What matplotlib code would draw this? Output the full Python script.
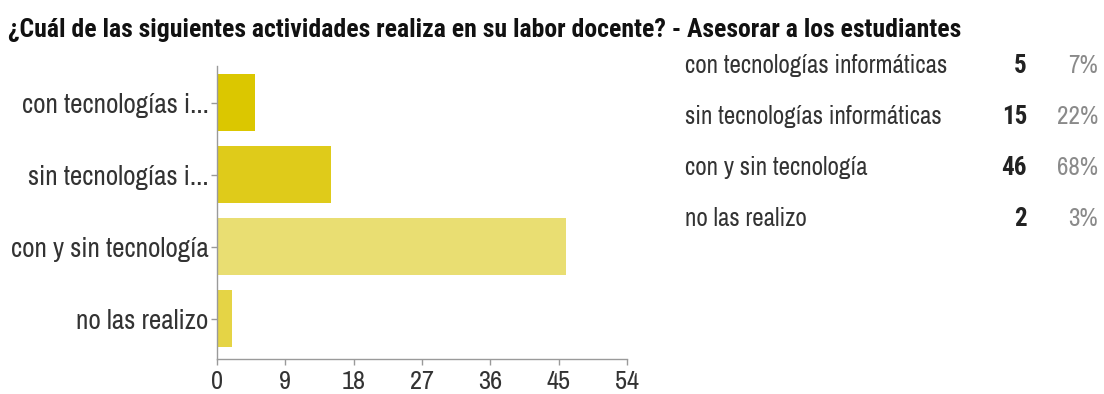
import matplotlib
matplotlib.use("Agg")
import matplotlib.pyplot as plt
from matplotlib import font_manager

entries = font_manager.fontManager.ttflist
names = {f.name for f in entries}
prefs = ['Liberation Sans Narrow', 'Arial Narrow', 'Archivo Narrow', 'Roboto Condensed',
         'PT Sans Narrow', 'Pragati Narrow', 'Asap Condensed', 'Liberation Sans']
fam = next((p for p in prefs if p in names), 'DejaVu Sans')


def has_bold(n):
    for f in entries:
        if f.name == n:
            w = f.weight
            if isinstance(w, str):
                if 'bold' in w.lower() and 'semi' not in w.lower():
                    return True
            elif w >= 700:
                return True
    return False


bold_fam = next((p for p in prefs if p in names and has_bold(p)), fam)
plt.rcParams['font.family'] = [fam, 'DejaVu Sans']

title = "¿Cuál de las siguientes actividades realiza en su labor docente? - Asesorar a los estudiantes"
categories = ["con tecnologías i...", "sin tecnologías i...", "con y sin tecnología", "no las realizo"]
full_labels = ["con tecnologías informáticas", "sin tecnologías informáticas", "con y sin tecnología", "no las realizo"]
counts = [5, 15, 46, 2]
percents = ["7%", "22%", "68%", "3%"]
xticks = [0, 9, 18, 27, 36, 45, 54]
colors = ["#dbc700", "#dfcb1a", "#e9de72", "#e5d445"]

W, H = 1104, 394
fig = plt.figure(figsize=(W / 100, H / 100), dpi=100)
fig.patch.set_facecolor("white")

ax = fig.add_axes([217 / W, 1 - 359 / H, (627 - 217) / W, (359 - 66) / H])
y = list(range(len(categories)))
ax.barh(y, counts, height=0.79, color=colors, edgecolor="none")
ax.set_ylim(3.56, -0.51)
ax.set_xlim(0, 54)
ax.set_xticks(xticks)
ax.set_xticklabels([str(t) for t in xticks])
ax.set_yticks(y)
ax.set_yticklabels(categories)
for s in ["top", "right"]:
    ax.spines[s].set_visible(False)
for s in ["left", "bottom"]:
    ax.spines[s].set_color("#9a9a9a")
    ax.spines[s].set_linewidth(1.0)
ax.tick_params(axis="both", colors="#9a9a9a", length=4, width=1.0, labelcolor="#333333")
ax.tick_params(axis="y", labelsize=19.5, pad=2)
ax.tick_params(axis="x", labelsize=19, pad=4)

fig.text(8 / W, 1 - 37 / H, title, fontsize=18.5, fontweight="bold", color="#111111",
         ha="left", va="baseline", family=[bold_fam, 'DejaVu Sans'])

row_base = [73, 124, 175, 226]
for lab, c, p, yy in zip(full_labels, counts, percents, row_base):
    fig.text(685 / W, 1 - yy / H, lab, fontsize=18, color="#333333", ha="left", va="baseline")
    fig.text(1027 / W, 1 - yy / H, str(c), fontsize=18, fontweight="bold", color="#222222",
             ha="right", va="baseline", family=[bold_fam, 'DejaVu Sans'])
    fig.text(1098 / W, 1 - yy / H, p, fontsize=18, color="#8a8a8a", ha="right", va="baseline")

fig.savefig("out.png", dpi=100, facecolor="white")
